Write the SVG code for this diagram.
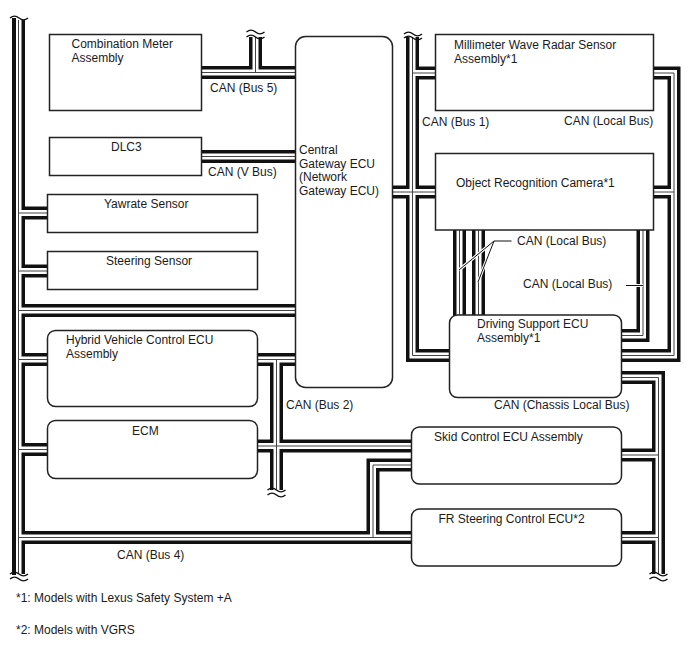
<svg xmlns="http://www.w3.org/2000/svg" width="688" height="658" viewBox="0 0 688 658">
<style>
text{font-family:"Liberation Sans",Arial,sans-serif;font-size:12px;fill:#1a1a1a}
.n{fill:#fff;stroke:#222;stroke-width:1.5}
.o{stroke:#111;stroke-width:13}
.w{stroke:#fff;stroke-width:6}
.c{stroke:#444;stroke-width:1}
.wave{fill:none;stroke:#111;stroke-width:1.4}
.lh{fill:none;stroke:#fff;stroke-width:3}
.l{fill:none;stroke:#111;stroke-width:1}
</style>
<defs>
<g id="routes" fill="none" stroke-linejoin="miter" stroke-linecap="butt">
<path d="M18.5 20V574"/>
<path d="M18.5 213H50"/>
<path d="M18.5 271H50"/>
<path d="M18.5 310.5H297"/>
<path d="M18.5 359.5H50"/>
<path d="M18.5 449.5H50"/>
<path d="M18.5 537.5H413"/>
<path d="M255 359.5H297"/>
<path d="M276.5 359.5V490"/>
<path d="M255 446H413"/>
<path d="M200 72.5H297"/>
<path d="M255.5 37V72.5"/>
<path d="M200 156.5H297"/>
<path d="M412.5 37V355.5H452"/>
<path d="M412.5 73H438"/>
<path d="M390 192H438"/>
<path d="M652 73H674V355.5H619"/>
<path d="M652 192H674"/>
<path d="M643 228V335.5H619"/>
<path d="M459.5 228V317"/>
<path d="M478.5 228V317"/>
<path d="M619 377.5H658.5V574"/>
<path d="M619 455H658.5"/>
<path d="M619 537.5H658.5"/>
<path d="M413 465H373V537.5"/>
</g>
<path id="wv" d="M-9 0c3-2.500 6-2.500 9 0s6 2.500 9 0"/>
</defs>
<g id="connectors">
<use href="#routes" class="o"/>
<use href="#routes" class="w"/>
<use href="#routes" class="c"/>
<path d="M14 18V575" fill="none" stroke="#111" stroke-width="4"/>
</g>
<g id="breaks" class="wave">
<use href="#wv" x="19" y="18"/>
<use href="#wv" x="19" y="574"/>
<use href="#wv" x="19" y="579"/>
<use href="#wv" x="255.500" y="32"/>
<use href="#wv" x="255.500" y="37"/>
<use href="#wv" x="413" y="34"/>
<use href="#wv" x="413" y="38"/>
<use href="#wv" x="276.500" y="490"/>
<use href="#wv" x="276.500" y="495"/>
<use href="#wv" x="658.500" y="574"/>
<use href="#wv" x="658.500" y="579"/>
</g>
<g id="node-combination-meter"><rect class="n" x="49.500" y="34.500" width="152" height="76"/><text x="71.500" y="47.500">Combination Meter</text><text x="71.500" y="61.500">Assembly</text></g>
<g id="node-dlc3"><rect class="n" x="49.500" y="137.500" width="152" height="38"/><text x="111" y="151">DLC3</text></g>
<g id="node-yawrate"><rect class="n" x="47.500" y="194.500" width="210" height="38"/><text x="104" y="208">Yawrate Sensor</text></g>
<g id="node-steering"><rect class="n" x="47.500" y="251.500" width="210" height="38"/><text x="106" y="265">Steering Sensor</text></g>
<g id="node-hybrid"><rect class="n" x="47.500" y="330.500" width="210" height="76" rx="8"/><text x="66" y="344">Hybrid Vehicle Control ECU</text><text x="66" y="358">Assembly</text></g>
<g id="node-ecm"><rect class="n" x="47.500" y="420.500" width="210" height="58" rx="8"/><text x="132" y="435">ECM</text></g>
<g id="node-central-gateway"><rect class="n" x="295.500" y="36.500" width="97" height="351" rx="10"/><text x="299" y="154">Central</text><text x="299" y="167.500">Gateway ECU</text><text x="299" y="181">(Network</text><text x="299" y="194.500">Gateway ECU)</text></g>
<g id="node-radar"><rect class="n" x="435.500" y="34.500" width="218" height="76"/><text x="454" y="48.500">Millimeter Wave Radar Sensor</text><text x="454" y="62.500">Assembly*1</text></g>
<g id="node-camera"><rect class="n" x="435.500" y="153.500" width="218" height="76.500"/><text x="456" y="187">Object Recognition Camera*1</text></g>
<g id="node-driving-support"><rect class="n" x="449.500" y="315" width="172" height="82.500" rx="8"/><text x="477" y="328">Driving Support ECU</text><text x="477" y="342">Assembly*1</text></g>
<g id="node-skid"><rect class="n" x="411.500" y="427" width="210" height="57" rx="8"/><text x="434" y="441">Skid Control ECU Assembly</text></g>
<g id="node-fr-steering"><rect class="n" x="411.500" y="509" width="210" height="57" rx="8"/><text x="438.500" y="522.500">FR Steering Control ECU*2</text></g>
<g id="leaders">
<path class="lh" d="M494 241L459 270M494 241L478 282"/>
<path class="lh" d="M630 285.500H643"/>
<path class="l" d="M511.500 241H494L459 270M494 241L478 282"/>
<path class="l" d="M626 285.500H643"/>
</g>
<g id="labels">
<text x="210" y="92">CAN (Bus 5)</text>
<text x="208" y="175.500">CAN (V Bus)</text>
<text x="422" y="126">CAN (Bus 1)</text>
<text x="564" y="125">CAN (Local Bus)</text>
<text x="517" y="245">CAN (Local Bus)</text>
<text x="523" y="288">CAN (Local Bus)</text>
<text x="494" y="409">CAN (Chassis Local Bus)</text>
<text x="286" y="408.500">CAN (Bus 2)</text>
<text x="117" y="558.500">CAN (Bus 4)</text>
<text x="16" y="602">*1: Models with Lexus Safety System +A</text>
<text x="16" y="634">*2: Models with VGRS</text>
</g>
</svg>
